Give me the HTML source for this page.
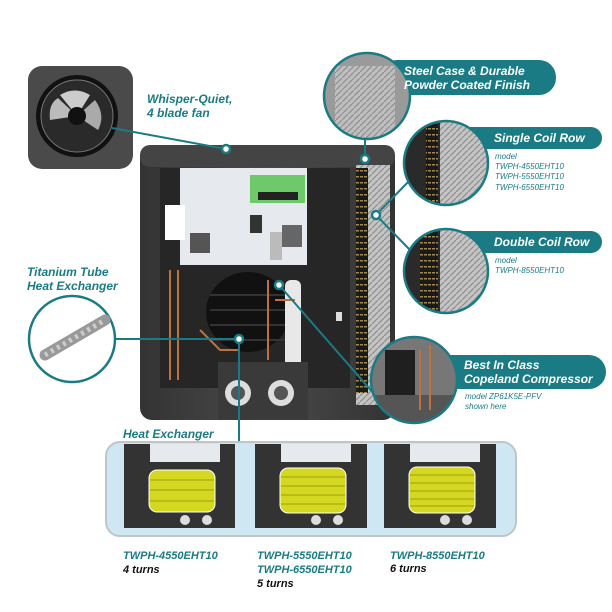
<!DOCTYPE html>
<html><head><meta charset="utf-8"><style>
html,body{margin:0;padding:0;background:#fff;}
svg{display:block;}
text{font-family:"Liberation Sans",sans-serif;font-style:italic;font-weight:bold;}
</style></head><body>
<svg width="612" height="612" viewBox="0 0 612 612" xmlns="http://www.w3.org/2000/svg">
<defs>
<linearGradient id="body" x1="0" x2="1"><stop offset="0" stop-color="#333"/><stop offset=".5" stop-color="#4a4a4a"/><stop offset="1" stop-color="#333"/></linearGradient>
<pattern id="fins" width="4" height="6" patternUnits="userSpaceOnUse"><rect width="4" height="6" fill="#1a1a1a"/><rect x="0" y="2" width="3" height="1.5" fill="#a08a50"/></pattern>
<pattern id="mesh" width="6" height="6" patternUnits="userSpaceOnUse"><rect width="6" height="6" fill="#c4c4c4"/><path d="M0 6L6 0" stroke="#8e8e8e" stroke-width="1.2"/></pattern>
<clipPath id="c1"><circle cx="367" cy="96" r="42"/></clipPath>
<clipPath id="c2"><circle cx="446" cy="163" r="41"/></clipPath>
<clipPath id="c3"><circle cx="446" cy="271" r="41"/></clipPath>
<clipPath id="c4"><circle cx="414" cy="380" r="42"/></clipPath>
</defs>

<rect x="28" y="66" width="105" height="103" rx="14" fill="#4a4a4a"/>
<circle cx="77" cy="116" r="41" fill="#111"/>
<circle cx="77" cy="116" r="36" fill="#2a2a2a" stroke="#777" stroke-width="1"/>
<path d="M77 116 L60 95 Q75 86 90 95 Z" fill="#ccc"/>
<path d="M77 116 L50 120 Q48 104 58 98 Z" fill="#bbb"/>
<path d="M77 116 L95 100 Q106 115 98 130 Z" fill="#aaa"/>
<circle cx="77" cy="116" r="9" fill="#111"/>

<rect x="140" y="145" width="255" height="275" rx="12" fill="url(#body)"/>
<rect x="140" y="145" width="255" height="22" rx="10" fill="#444"/>
<rect x="356" y="165" width="34" height="240" fill="url(#mesh)"/>
<rect x="356" y="168" width="12" height="225" fill="url(#fins)"/>
<rect x="160" y="168" width="190" height="220" fill="#262626"/>
<rect x="180" y="168" width="127" height="97" fill="#e6e9ee"/>
<rect x="250" y="175" width="55" height="28" fill="#6ec96a"/>
<rect x="258" y="192" width="40" height="8" fill="#222"/>
<rect x="165" y="205" width="20" height="35" fill="#fff"/>
<rect x="190" y="233" width="20" height="20" fill="#555"/>
<rect x="250" y="215" width="12" height="18" fill="#333"/>
<rect x="282" y="225" width="20" height="22" fill="#666"/>
<rect x="270" y="232" width="12" height="28" fill="#bbb"/>
<ellipse cx="248" cy="312" rx="42" ry="40" fill="#111"/>
<g stroke="#333" stroke-width="2" fill="none"><path d="M210 295h78M210 310h78M210 325h78M210 340h78"/></g>
<rect x="285" y="280" width="16" height="90" rx="6" fill="#e8e8e8"/>
<g stroke="#c0703a" stroke-width="2" fill="none"><path d="M170 270v110M178 270v110M268 280v80M275 300h20M200 330l20 20h20"/></g>
<rect x="218" y="362" width="90" height="58" fill="#3a3a3a"/>
<circle cx="238" cy="393" r="13" fill="#ddd"/><circle cx="238" cy="393" r="7" fill="#555"/>
<circle cx="281" cy="393" r="13" fill="#ddd"/><circle cx="281" cy="393" r="7" fill="#555"/>
<rect x="336" y="312" width="6" height="9" fill="#ddd"/>

<g stroke="#1a7b85" stroke-width="2" fill="none">
<line x1="112" y1="128" x2="226" y2="149"/>
<line x1="365" y1="159" x2="365" y2="138"/>
<line x1="376" y1="215" x2="410" y2="180"/>
<line x1="376" y1="215" x2="410" y2="250"/>
<line x1="279" y1="285" x2="375" y2="395"/>
<line x1="115" y1="339" x2="239" y2="339"/>
<line x1="239" y1="339" x2="239" y2="442"/>
</g>
<g fill="#fff" stroke="#1a7b85" stroke-width="2.5">
<circle cx="226" cy="149" r="4"/><circle cx="365" cy="159" r="4"/><circle cx="376" cy="215" r="4"/><circle cx="279" cy="285" r="4"/><circle cx="239" cy="339" r="4"/>
</g>

<g fill="#1a7b85">
<rect x="380" y="60" width="176" height="35" rx="17"/>
<rect x="440" y="127" width="162" height="22" rx="11"/>
<rect x="440" y="231" width="162" height="22" rx="11"/>
<rect x="420" y="355" width="186" height="34" rx="17"/>
</g>

<circle cx="367" cy="96" r="43" fill="#9a9a9a"/>
<circle cx="446" cy="163" r="42" fill="#2a2a2a"/>
<circle cx="446" cy="271" r="42" fill="#2a2a2a"/>
<circle cx="414" cy="380" r="43" fill="#777"/>
<circle cx="72" cy="339" r="43" fill="#fff"/>
<g clip-path="url(#c1)"><rect x="335" y="66" width="60" height="80" fill="url(#mesh)" opacity=".85"/></g>
<g clip-path="url(#c2)"><rect x="440" y="120" width="50" height="90" fill="url(#mesh)"/><rect x="426" y="120" width="12" height="90" fill="url(#fins)"/></g>
<g clip-path="url(#c3)"><rect x="440" y="228" width="50" height="90" fill="url(#mesh)"/><rect x="420" y="228" width="18" height="90" fill="url(#fins)"/></g>
<g clip-path="url(#c4)"><rect x="385" y="350" width="30" height="45" fill="#1f1f1f"/><rect x="370" y="395" width="90" height="30" fill="#555"/><path d="M420 350v60M430 345v65" stroke="#c0703a" stroke-width="2"/></g>
<g stroke="#1a7b85" stroke-width="2.5" fill="none">
<circle cx="367" cy="96" r="43"/>
<circle cx="446" cy="163" r="42"/>
<circle cx="446" cy="271" r="42"/>
<circle cx="414" cy="380" r="43"/>
<circle cx="72" cy="339" r="43"/>
</g>
<path d="M45 355 L105 320" stroke="#999" stroke-width="11" stroke-linecap="round"/>
<path d="M45 355 L105 320" stroke="#ccc" stroke-width="5" stroke-dasharray="3 4"/>

<g fill="#fff" font-size="12">
<text x="404" y="75">Steel Case &amp; Durable</text>
<text x="404" y="89">Powder Coated Finish</text>
<text x="494" y="142">Single Coil Row</text>
<text x="494" y="246">Double Coil Row</text>
<text x="464" y="369">Best In Class</text>
<text x="464" y="383">Copeland Compressor</text>
</g>
<g fill="#1a7b85" font-size="8">
<text x="495" y="159" style="font-weight:normal">model</text>
<text x="495" y="169" style="font-weight:normal">TWPH-4550EHT10</text>
<text x="495" y="179" style="font-weight:normal">TWPH-5550EHT10</text>
<text x="495" y="190" style="font-weight:normal">TWPH-6550EHT10</text>
<text x="495" y="263" style="font-weight:normal">model</text>
<text x="495" y="273" style="font-weight:normal">TWPH-8550EHT10</text>
<text x="465" y="399" style="font-weight:normal">model ZP61K5E-PFV</text>
<text x="465" y="409" style="font-weight:normal">shown here</text>
</g>
<g fill="#1a7b85" font-size="12">
<text x="147" y="103">Whisper-Quiet,</text>
<text x="147" y="117">4 blade fan</text>
<text x="27" y="276">Titanium Tube</text>
<text x="27" y="290">Heat Exchanger</text>
<text x="123" y="438">Heat Exchanger</text>
</g>

<rect x="106" y="442" width="410" height="94" rx="14" fill="#cfe6f3" stroke="#bfc5c9" stroke-width="2"/>
<g>
<rect x="124" y="444" width="111" height="84" fill="#333"/>
<rect x="255" y="444" width="112" height="84" fill="#333"/>
<rect x="384" y="444" width="112" height="84" fill="#333"/>
<rect x="150" y="444" width="70" height="18" fill="#e6e9ee"/>
<rect x="281" y="444" width="70" height="18" fill="#e6e9ee"/>
<rect x="410" y="444" width="70" height="18" fill="#e6e9ee"/>
</g>
<g fill="#d4d820" stroke="#fff" stroke-width="1">
<rect x="149" y="470" width="66" height="42" rx="8"/>
<rect x="280" y="468" width="66" height="45" rx="8"/>
<rect x="409" y="467" width="66" height="46" rx="8"/>
</g>
<g stroke="#a9ab10" stroke-width="1.2">
<path d="M150 480h64M150 490h64M150 501h64"/>
<path d="M281 477h64M281 486h64M281 495h64M281 504h64"/>
<path d="M410 475h64M410 483h64M410 491h64M410 499h64M410 506h64"/>
</g>
<g fill="#ddd"><circle cx="185" cy="520" r="5"/><circle cx="207" cy="520" r="5"/><circle cx="316" cy="520" r="5"/><circle cx="338" cy="520" r="5"/><circle cx="445" cy="520" r="5"/><circle cx="467" cy="520" r="5"/></g>

<g font-size="11">
<text x="123" y="559" fill="#1a7b85">TWPH-4550EHT10</text>
<text x="123" y="573" fill="#111">4 turns</text>
<text x="257" y="559" fill="#1a7b85">TWPH-5550EHT10</text>
<text x="257" y="573" fill="#1a7b85">TWPH-6550EHT10</text>
<text x="257" y="587" fill="#111">5 turns</text>
<text x="390" y="559" fill="#1a7b85">TWPH-8550EHT10</text>
<text x="390" y="572" fill="#111">6 turns</text>
</g>
</svg>
</body></html>
